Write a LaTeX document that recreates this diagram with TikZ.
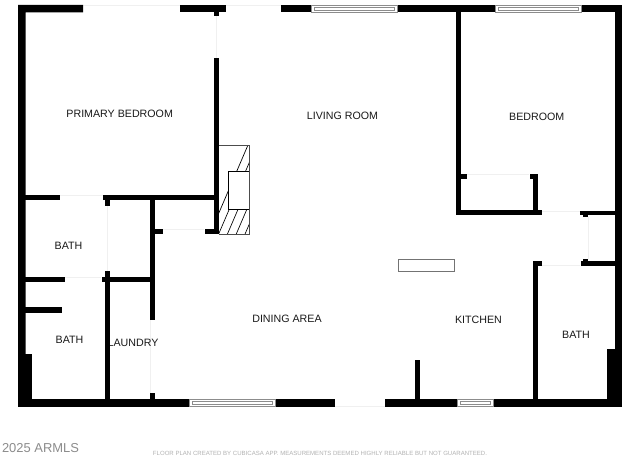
\documentclass[tikz,border=0pt]{standalone}
\usepackage{fontspec}
\setmainfont{Liberation Sans}
\tikzset{
	wall/.style={fill=black},
	opening/.style={draw=black!6,line width=0.6pt},
	pane/.style={draw=black!45,fill=white,line width=0.6pt},
	roomlabel/.style={inner sep=0.75pt,font=\fontsize{8}{10}\selectfont,text=black!90}
}
\begin{document}
\begin{tikzpicture}[x=0.75pt,y=0.75pt,yscale=-1,xscale=1]
		\useasboundingbox (0,0) rectangle (640,460);
		\fill[white] (0,0) rectangle (640,460);
		\draw[opening] (83,5) -- (180,5);
		\draw[opening] (226,5) -- (281,5);
		\draw[opening] (216.5,16) -- (216.5,58);
		\draw[opening] (60,195) -- (103,195);
		\draw[opening] (107.5,206) -- (107.5,271);
		\draw[opening] (64,277) -- (101,277);
		\draw[opening] (163,229.5) -- (204,229.5);
		\draw[opening] (150.5,320) -- (150.5,393);
		\draw[opening] (467,174) -- (529,174);
		\draw[opening] (542,211) -- (580,211);
		\draw[opening] (542,265.5) -- (580,265.5);
		\draw[opening] (588,217) -- (588,259);
		\draw[opening] (335,406.5) -- (385,406.5);
		\node [roomlabel] (primary) at (119.7,113.5) {PRIMARY BEDROOM};
		\node [roomlabel] (living) at (342.5,115.5) {LIVING ROOM};
		\node [roomlabel] (bedroom) at (536.7,116.5) {BEDROOM};
		\node [roomlabel] (bathupper) at (68.5,246) {BATH};
		\node [roomlabel] (bathlower) at (69.5,340) {BATH};
		\node [roomlabel] (laundry) at (133,343) {LAUNDRY};
		\node [roomlabel] (dining) at (287,318.5) {DINING AREA};
		\node [roomlabel] (kitchen) at (478.5,319.5) {KITCHEN};
		\node [roomlabel] (bathright) at (576,335) {BATH};
		\node [inner sep=0.75pt,font=\fontsize{9.7}{12}\selectfont,text=black!45] (armls) at (40.5,448) {2025 ARMLS};
		\node [inner sep=0.75pt,font=\fontsize{4.54}{6}\selectfont,text=black!30] (disclaimer) at (320,453.5) {FLOOR PLAN CREATED BY CUBICASA APP. MEASUREMENTS DEEMED HIGHLY RELIABLE BUT NOT GUARANTEED.};
		\fill[wall] (18,5) -- (83,5) -- (83,12.5) -- (25.7,12.5) -- (25.7,399.3) -- (18,399.3) -- cycle;
		\fill[wall] (180,5) rectangle (226,12.5);
		\fill[wall] (281,5) rectangle (311,12.5);
		\fill[wall] (397,5) rectangle (495,12.5);
		\fill[wall] (581,5) rectangle (622,12.5);
		\fill[wall] (614.7,5) rectangle (622,406.7);
		\fill[wall] (18,399.3) rectangle (189,406.7);
		\fill[wall] (275,399.3) rectangle (334.7,406.7);
		\fill[wall] (385,399.3) rectangle (457,406.7);
		\fill[wall] (493,399.3) rectangle (622,406.7);
		\fill[wall] (214,12) rectangle (219,16.5);
		\fill[wall] (214,58) rectangle (219,234.3);
		\fill[wall] (25,195) rectangle (60,200.3);
		\fill[wall] (103,195) rectangle (214,200.3);
		\fill[wall] (105.3,200) rectangle (110.3,206.5);
		\fill[wall] (150.3,200) rectangle (155.4,320);
		\fill[wall] (150.3,393) rectangle (155.4,400);
		\fill[wall] (155,229.3) rectangle (163,234.3);
		\fill[wall] (204.5,229.3) rectangle (219,234.3);
		\fill[wall] (25,276.7) rectangle (64.5,282);
		\fill[wall] (101.5,276.7) rectangle (151,282);
		\fill[wall] (105.3,271.3) rectangle (110.3,400);
		\fill[wall] (25,307.3) rectangle (62.3,312.7);
		\fill[wall] (25,354.3) rectangle (32,400);
		\fill[wall] (606.7,349.3) rectangle (615,400);
		\fill[wall] (415.3,360.3) rectangle (420.3,400);
		\fill[wall] (455.5,12) rectangle (460.7,215.3);
		\fill[wall] (455.5,210.5) rectangle (542.3,215.3);
		\fill[wall] (460,174) rectangle (467.3,179.3);
		\fill[wall] (529.5,174) rectangle (538.3,179.3);
		\fill[wall] (533.3,174) rectangle (538.3,215);
		\fill[wall] (580,210.7) rectangle (615,215.5);
		\fill[wall] (583.3,215) rectangle (588,217.3);
		\fill[wall] (580.5,261.3) rectangle (615,266);
		\fill[wall] (583.3,258.5) rectangle (588,262);
		\fill[wall] (533.3,261.3) rectangle (542,266);
		\fill[wall] (533.3,261.3) rectangle (538.3,400);
		\draw[pane] (311,5) rectangle (397,12.5);
		\draw[pane] (314.5,7.3) rectangle (394,10.2);
		\draw[pane] (495,5) rectangle (581,12.5);
		\draw[pane] (498,7.3) rectangle (578,10.2);
		\draw[pane] (189,399.3) rectangle (275,406.7);
		\draw[pane] (192,401.6) rectangle (272,404.4);
		\draw[pane] (457,399.3) rectangle (493,406.7);
		\draw[pane] (460,401.6) rectangle (490,404.4);
		\begin{scope}
			\clip (219,145.5) rectangle (249,234);
			\foreach \hatchx in {0,...,12}
				\draw[line width=0.5pt] (206+8.8*\hatchx,243) -- (206+8.8*\hatchx+42,145);
		\end{scope}
		\draw[line width=0.5pt,fill=white] (228.3,171) rectangle (249,209);
		\draw[line width=0.5pt,black!70] (219,145.5) -- (249,145.5) -- (249,234) -- (219,234);
		\draw[black!55,line width=0.6pt,fill=white] (398.7,259.3) rectangle (454.3,271.3);
\end{tikzpicture}
\end{document}
